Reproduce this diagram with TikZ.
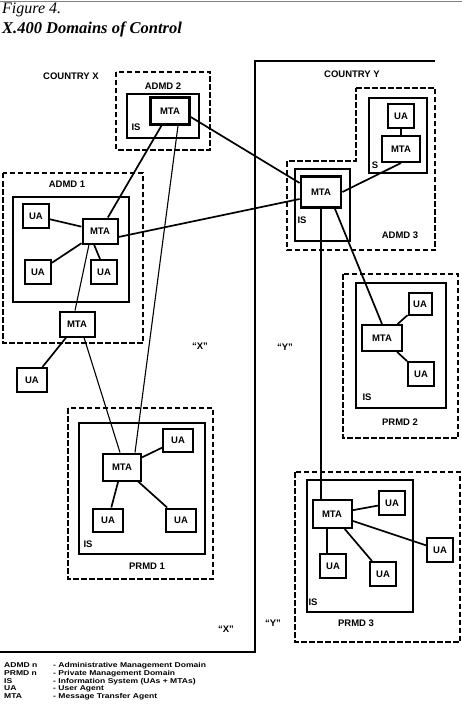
\documentclass[tikz,border=0pt]{standalone}
\usepackage{fontspec}
\setmainfont{Liberation Serif}
\newfontfamily\lbl{Liberation Sans}
\newfontfamily\keyfont[FakeStretch=1.22]{Liberation Sans}
\begin{document}
\begin{tikzpicture}[x=1pt,y=-1pt,
    txt/.style={font=\lbl\bfseries\fontsize{9.5}{10}\selectfont},
    box/.style={txt,draw,line width=2pt,inner sep=0pt},
    ua/.style={box,minimum width=26pt,minimum height=24pt},
    mta/.style={box,minimum width=38pt,minimum height=27pt},
    is/.style={line width=1.2pt},
    dom/.style={line width=2pt,dash pattern=on 5.5pt off 2.5pt},
    link/.style={line width=1.7pt},
    thin link/.style={line width=1.1pt},
    legend/.style={font=\keyfont\bfseries\fontsize{7}{7}\selectfont,inner sep=0pt,anchor=base west}]
    \useasboundingbox (0,0) rectangle (462,722);
    \draw[gray,line width=0.6pt] (0,1) -- (462,1);
    \node[anchor=base west,inner sep=0pt,font=\itshape\fontsize{16}{18}\selectfont] (fig) at (2,14) {Figure 4.};
    \node[anchor=base west,inner sep=0pt,font=\bfseries\itshape\fontsize{16.5}{18}\selectfont] (title) at (2,34) {X.400 Domains of Control};
    \draw[line width=2pt] (0,652) -- (255,652) -- (255,61) -- (435,61);
    \node[txt] (cx) at (71,76) {COUNTRY X};
    \node[txt] (cy) at (352,74) {COUNTRY Y};
    \node[txt] (qx1) at (200,346) {“X”};
    \node[txt] (qx2) at (226,629) {“X”};
    \node[txt] (qy1) at (285,347) {“Y”};
    \node[txt] (qy2) at (273,623) {“Y”};
    % domains
    \draw[dom] (116,72) rectangle (210,150);
    \draw[dom] (3,173) rectangle (143,343);
    \draw[dom] (68,408) rectangle (213,579);
    \draw[dom] (356,88) -- (435,88) -- (435,250) -- (287,250) -- (287,161) -- (356,161) -- cycle;
    \draw[dom] (343,274) rectangle (458,438);
    \draw[dom] (295,472) rectangle (460,642);
    \node[txt] (la2) at (163,86) {ADMD 2};
    \node[txt] (la1) at (67,184) {ADMD 1};
    \node[txt] (lp1) at (147,566) {PRMD 1};
    \node[txt] (la3) at (400,235) {ADMD 3};
    \node[txt] (lp2) at (400,422) {PRMD 2};
    \node[txt] (lp3) at (356,623) {PRMD 3};
    % information systems
    \draw[is] (127,94) rectangle (199,138);
    \draw[is] (13,197) rectangle (129,302);
    \draw[is] (79,423) rectangle (205,554);
    \draw[is] (369,98) rectangle (427,173);
    \draw[is] (295,169) rectangle (350,241);
    \draw[is] (356,283) rectangle (446,408);
    \draw[is] (307,480) rectangle (413,612);
    \node[txt] (is2) at (136,127) {IS};
    \node[txt] (is3) at (375,165) {S};
    \node[txt] (is3b) at (302,220) {IS};
    \node[txt] (isp1) at (88,544) {IS};
    \node[txt] (isp2) at (367,397) {IS};
    \node[txt] (isp3) at (313,602) {IS};
    % agents
    \node[mta,line width=2.5pt,minimum width=39pt] (a2mta) at (170,111) {MTA};
    \node[ua] (a1ua1) at (36,216) {UA};
    \node[mta,minimum width=35pt,minimum height=25pt] (a1mta) at (100,231) {MTA};
    \node[ua] (a1ua2) at (38,272) {UA};
    \node[ua] (a1ua3) at (104,272) {UA};
    \node[mta,minimum width=35pt,minimum height=25pt] (a1mtb) at (77,324) {MTA};
    \node[ua,minimum width=30pt] (xua) at (32,380) {UA};
    \node[ua,minimum width=30pt,minimum height=23pt] (p1ua1) at (178,440) {UA};
    \node[mta] (p1mta) at (122,467) {MTA};
    \node[ua,minimum width=30pt,minimum height=23pt] (p1ua2) at (108,520) {UA};
    \node[ua,minimum width=30pt,minimum height=23pt] (p1ua3) at (181,520) {UA};
    \node[ua] (a3ua) at (401,116) {UA};
    \node[mta,minimum height=26pt] (a3mtb) at (401,149) {MTA};
    \node[mta,line width=2.8pt,minimum width=40pt,minimum height=31pt] (a3mta) at (321,192) {MTA};
    \node[mta,minimum width=40pt,minimum height=26pt] (p2mta) at (382,338) {MTA};
    \node[ua,minimum width=23pt,minimum height=22pt] (p2ua1) at (420,304) {UA};
    \node[ua] (p2ua2) at (421,374) {UA};
    \node[mta,minimum width=39pt,minimum height=28pt] (p3mta) at (332,514) {MTA};
    \node[ua] (p3ua1) at (392,503) {UA};
    \node[ua] (p3ua2) at (333,566) {UA};
    \node[ua] (p3ua3) at (383,574) {UA};
    \node[ua] (p3ua4) at (440,550) {UA};
    % links
    \draw[link] ([yshift=-6pt]a2mta.east) -- ([yshift=9pt]a3mta.west);
    \draw[link] (a2mta) -- (a1mta);
    \draw[thin link] ([xshift=8pt]a2mta.south) -- ([xshift=13pt]p1mta.north);
    \draw[link] ([yshift=-6pt]a1mta.east) -- ([yshift=-7pt]a3mta.west);
    \draw[link] (a1mta) -- (a1ua1);
    \draw[link] (a1mta) -- (a1ua2);
    \draw[link] ([xshift=-6pt]a1mta.south) -- ([xshift=-4pt]a1ua3.north);
    \draw[thin link] ([xshift=-11pt]a1mta.south) -- ([xshift=-2pt]a1mtb.north);
    \draw[link] (a1mtb) -- (xua);
    \draw[thin link] ([xshift=7pt]a1mtb.south) -- ([xshift=-2pt]p1mta.north);
    \draw[link] (p1mta) -- (p1ua1);
    \draw[link] (p1mta) -- (p1ua2);
    \draw[link] (p1mta) -- (p1ua3);
    \draw[link] (a3ua) -- (a3mtb);
    \draw[link] (a3mta.east) -- (a3mtb.south);
    \draw[link] ([xshift=14pt]a3mta.south) -- (p2mta.north);
    \draw[thin link] (a3mta.south) -- (a3mta.south |- p3mta.north);
    \draw[link] (p2mta) -- (p2ua1);
    \draw[link] (p2mta) -- (p2ua2);
    \draw[link] (p3mta) -- (p3ua1);
    \draw[link] ([xshift=-5pt]p3mta.south) -- ([xshift=-6pt]p3ua2.north);
    \draw[link] (p3mta) -- (p3ua3);
    \draw[link] (p3mta) -- (p3ua4);
    % key
    \foreach \k/\v [count=\i] in {ADMD n/Administrative Management Domain,PRMD n/Private Management Domain,IS/Information System (UAs + MTAs),UA/User Agent,MTA/Message Transfer Agent}{
      \node[legend] (key\i) at (4,659.7+7.8*\i) {\k};
      \node[legend] (val\i) at (53,659.7+7.8*\i) {- \v};
    }
\end{tikzpicture}
\end{document}
